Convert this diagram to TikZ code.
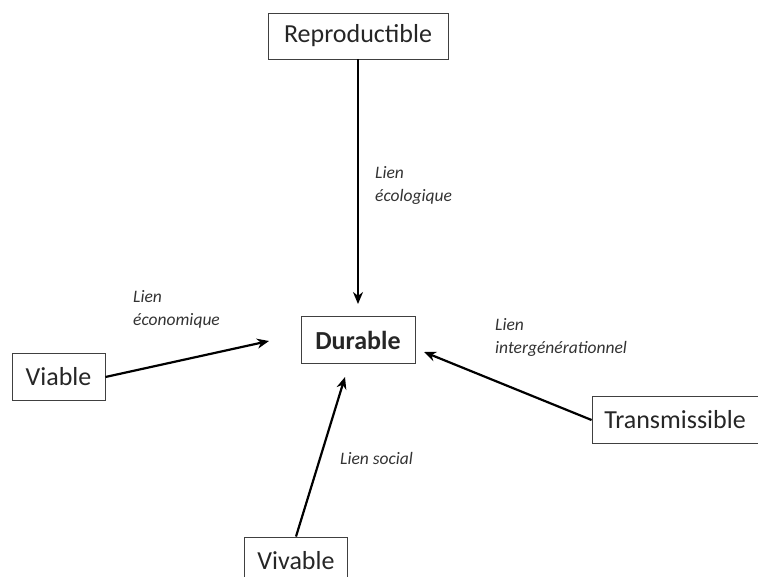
\documentclass[tikz,border=0pt]{standalone}
\usepackage{fontspec}
\setmainfont{Carlito}
\usetikzlibrary{arrows.meta}
\begin{document}
\begin{tikzpicture}[x=1pt,y=-1pt,
  box/.style={draw=black!75,line width=0.9pt,inner sep=0pt,font=\fontsize{26}{30}\selectfont,text=black!85},
  lien/.style={font=\fontsize{17.5}{23}\selectfont\itshape,text=black!80,align=left,anchor=north west,inner sep=0pt},
  link/.style={line width=2.2pt,-{Stealth[length=12pt,width=10pt]}}]
\useasboundingbox (0,0) rectangle (758,577);
\node[box,minimum width=180pt,minimum height=46pt] (rep) at (358,36) {Reproductible};
\node[box,minimum width=114pt,minimum height=47pt,font=\fontsize{26}{30}\selectfont\bfseries] (dur) at (358,340) {Durable};
\node[box,minimum width=93pt,minimum height=47pt] (via) at (58.5,377) {Viable};
\node[box,minimum width=166pt,minimum height=47pt] (tra) at (675,420) {Transmissible};
\node[box,minimum width=103pt,minimum height=47pt] (viv) at (296,560.5) {Vivable};
\coordinate (eN) at (358,304);
\coordinate (eW) at (269,341);
\coordinate (eE) at (424,352);
\coordinate (eS) at (345,377);
\draw[link] (rep.south) -- (eN);
\draw[link] (via.east) -- (eW);
\draw[link] (tra.west) -- (eE);
\draw[link] (viv.north) -- (eS);
\node[lien] (l1) at (375,166) {Lien\\écologique};
\node[lien] (l2) at (133,290) {Lien\\économique};
\node[lien] (l3) at (495,318) {Lien\\intergénérationnel};
\node[lien] (l4) at (340,452) {Lien social};
\end{tikzpicture}
\end{document}
